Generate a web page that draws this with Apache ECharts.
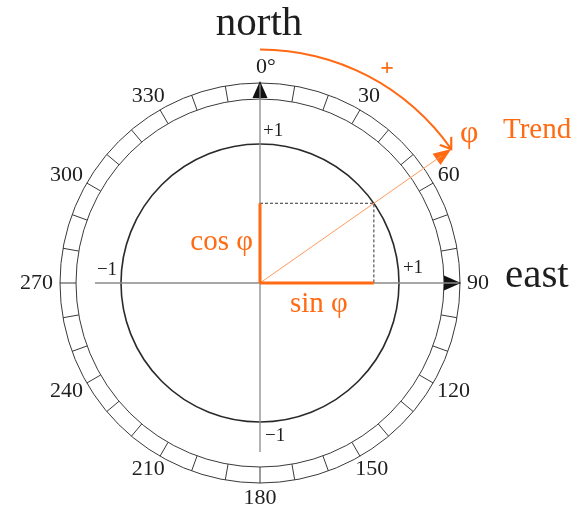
<!DOCTYPE html>
<html>
<head>
<meta charset="utf-8">
<script src="https://cdn.jsdelivr.net/npm/echarts@6/dist/echarts.min.js"></script>
<style>
  html, body { margin: 0; padding: 0; background: #fff; }
  #compass_chart { width: 579px; height: 507px; }
</style>
</head>
<body>
<div id="compass_chart"></div>
<script>
  // values in units of the unit circle; angles in degrees, clockwise from north
  const tickLabels = ['0°', '30', '60', '90', '120', '150', '180', '210', '240', '270', '300', '330']
  const tickAngles = [0, 30, 60, 90, 120, 150, 180, 210, 240, 270, 300, 330]
  const trendAngle = [55]
  const trendLength = [1.68]
  const eastWestAxis = [[1.187, 270], [1.43, 90]]
  const northSouthAxis = [[1.216, 180], [1.43, 0]]
  const axisTips = [[1.453, 0], [1.446, 90]]

  const U = 139 // px per unit
  const CENTER = [260, 283]
  const SERIF = '"Liberation Serif", "DejaVu Serif", serif'
  const ORANGE = '#ff6a13'
  const INK = '#1e1e1e'

  const phi = trendAngle[0]
  const rad = phi * Math.PI / 180
  const cosPhi = Math.cos(rad)
  const sinPhi = Math.sin(rad)

  const myChart = echarts.init(document.getElementById('compass_chart'))

  const hiddenRadius = (i, max) => ({
    polarIndex: i, type: 'value', min: 0, max: max, show: false,
    splitLine: { show: false }, splitArea: { show: false }
  })
  const circleAngle = (i, color, width, extra) => Object.assign({
    polarIndex: i,
    type: 'value',
    min: 0,
    max: 360,
    interval: 10,
    startAngle: 90,
    clockwise: true,
    axisLine: { show: true, lineStyle: { color: color, width: width } },
    axisTick: { show: false },
    axisLabel: { show: false },
    splitLine: { show: false },
    splitArea: { show: false }
  }, extra || {})

  // push each degree label outward by half its box so its edge sits next to the ring
  const labelOffset = (text, a) => {
    const t = a * Math.PI / 180
    const halfW = text.replace('°', '').length * 5.5
    return [halfW * Math.sin(t) + (text.indexOf('°') >= 0 ? 6 : 0), -8.5 * Math.cos(t)]
  }

  const option = {
    animation: false,
    backgroundColor: '#fff',
    polar: [
      { center: CENTER, radius: 200 },
      { center: CENTER, radius: 184 },
      { center: CENTER, radius: U },
      { center: CENTER, radius: 250 },
      { center: CENTER, radius: 2 * trendLength[0] * U }
    ],
    angleAxis: [
      circleAngle(0, '#3a3a3a', 1, {
        axisTick: { show: true, inside: true, length: 16, lineStyle: { color: '#3a3a3a', width: 1 } }
      }),
      circleAngle(1, '#3a3a3a', 1),
      circleAngle(2, '#2a2a2a', 1.6),
      circleAngle(3, '#000', 0, { axisLine: { show: false } }),
      circleAngle(4, '#000', 0, { axisLine: { show: false } })
    ],
    radiusAxis: [
      hiddenRadius(0, 1),
      hiddenRadius(1, 1),
      hiddenRadius(2, 1),
      hiddenRadius(3, 250 / U),
      {
        polarIndex: 4, type: 'category', data: ['arc'], show: false,
        splitLine: { show: false }, splitArea: { show: false }
      }
    ],
    series: [
      {
        // compass degree labels
        type: 'scatter', coordinateSystem: 'polar', polarIndex: 3,
        symbolSize: 1, silent: true,
        itemStyle: { color: 'transparent', opacity: 1 },
        label: {
          show: true, position: 'inside', color: INK, opacity: 1,
          fontFamily: SERIF, fontSize: 22,
          formatter: function (p) { return tickLabels[p.dataIndex] }
        },
        data: tickAngles.map(function (a, i) {
          return { value: [207 / U, a], label: { offset: labelOffset(tickLabels[i], a) } }
        })
      },
      {
        // east-west axis
        type: 'line', coordinateSystem: 'polar', polarIndex: 3,
        symbol: 'none', silent: true,
        lineStyle: { color: '#8a8a8a', width: 1.3 },
        data: eastWestAxis
      },
      {
        // north-south axis
        type: 'line', coordinateSystem: 'polar', polarIndex: 3,
        symbol: 'none', silent: true,
        lineStyle: { color: '#8a8a8a', width: 1.3 },
        data: northSouthAxis
      },
      {
        // black arrow heads at 0 and 90
        type: 'scatter', coordinateSystem: 'polar', polarIndex: 3,
        symbol: 'triangle', symbolSize: [15, 17], silent: true,
        itemStyle: { color: '#111', opacity: 1 },
        data: axisTips.map(function (p) {
          return { value: [p[0] - 8.5 / U, p[1]], symbolRotate: -p[1] }
        })
      },
      {
        // dashed projection box
        type: 'line', coordinateSystem: 'polar', polarIndex: 3,
        symbol: 'none', silent: true,
        lineStyle: { color: '#333', width: 1, type: [3, 2] },
        data: [[cosPhi, 0], [1, phi], [sinPhi, 90]]
      },
      {
        // trend line
        type: 'line', coordinateSystem: 'polar', polarIndex: 3,
        symbol: 'none', silent: true,
        lineStyle: { color: '#ff9a5c', width: 1 },
        data: [[0, phi], [trendLength[0] - 12 / U, phi]]
      },
      {
        // cos phi
        type: 'line', coordinateSystem: 'polar', polarIndex: 3,
        symbol: 'none', silent: true,
        lineStyle: { color: ORANGE, width: 3 },
        data: [[0, 0], [cosPhi, 0]]
      },
      {
        // sin phi
        type: 'line', coordinateSystem: 'polar', polarIndex: 3,
        symbol: 'none', silent: true,
        lineStyle: { color: ORANGE, width: 3 },
        data: [[0, 90], [sinPhi, 90]]
      },
      {
        // trend arrow head
        type: 'scatter', coordinateSystem: 'polar', polarIndex: 3,
        symbol: 'triangle', symbolSize: [14, 18], silent: true,
        itemStyle: { color: ORANGE, opacity: 1 },
        data: [{ value: [trendLength[0] - 9 / U, phi], symbolRotate: -phi }]
      },
      {
        // curved "+" arrow from north
        type: 'bar', coordinateSystem: 'polar', polarIndex: 4,
        barWidth: 2, silent: true,
        itemStyle: { color: ORANGE },
        data: [phi]
      },
      {
        // open arrow head at the end of the arc
        type: 'scatter', coordinateSystem: 'polar', polarIndex: 3,
        symbol: 'path://M0,10 L7,0 L14,10', symbolSize: [14, 10], silent: true,
        itemStyle: { color: 'transparent', borderColor: ORANGE, borderWidth: 2, opacity: 1 },
        data: [{
          value: [trendLength[0], phi - (5 / (trendLength[0] * U)) * 180 / Math.PI],
          symbolRotate: -(90 + phi)
        }]
      }
    ],
    graphic: [
      { type: 'text', x: 259, y: 24, style: { text: 'north', fill: INK, font: '41px ' + SERIF, align: 'center', verticalAlign: 'middle' } },
      { type: 'text', x: 505, y: 276, style: { text: 'east', fill: INK, font: '41px ' + SERIF, align: 'left', verticalAlign: 'middle' } },
      { type: 'text', x: 460, y: 134, style: { text: 'φ', fill: ORANGE, font: '32px ' + SERIF, align: 'left', verticalAlign: 'middle' } },
      { type: 'text', x: 503, y: 130, style: { text: 'Trend', fill: ORANGE, font: '29px ' + SERIF, align: 'left', verticalAlign: 'middle' } },
      { type: 'text', x: 387, y: 69, style: { text: '+', fill: ORANGE, font: 'bold 24px ' + SERIF, align: 'center', verticalAlign: 'middle' } },
      { type: 'text', x: 253, y: 242, style: { text: 'cos φ', fill: ORANGE, font: '29px ' + SERIF, align: 'right', verticalAlign: 'middle' } },
      { type: 'text', x: 290, y: 304, style: { text: 'sin φ', fill: ORANGE, font: '29px ' + SERIF, align: 'left', verticalAlign: 'middle' } },
      { type: 'text', x: 263, y: 131, style: { text: '+1', fill: INK, font: '19px ' + SERIF, align: 'left', verticalAlign: 'middle' } },
      { type: 'text', x: 107, y: 270, style: { text: '−1', fill: INK, font: '19px ' + SERIF, align: 'center', verticalAlign: 'middle' } },
      { type: 'text', x: 413, y: 268, style: { text: '+1', fill: INK, font: '19px ' + SERIF, align: 'center', verticalAlign: 'middle' } },
      { type: 'text', x: 265, y: 436, style: { text: '−1', fill: INK, font: '19px ' + SERIF, align: 'left', verticalAlign: 'middle' } }
    ]
  }

  myChart.setOption(option)
</script>
</body>
</html>
